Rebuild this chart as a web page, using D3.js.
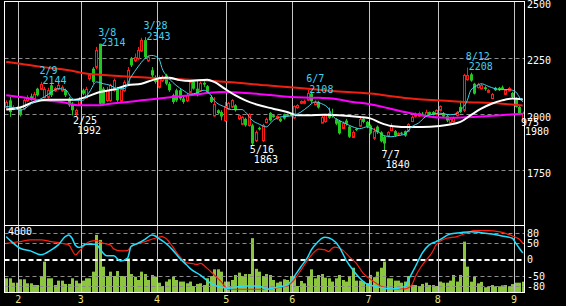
<!DOCTYPE html>
<html>
<head>
<meta charset="utf-8">
<script src="https://cdn.jsdelivr.net/npm/d3@7"></script>
<style>
html, body { margin: 0; padding: 0; background: #000; overflow: hidden; }
svg text { font-family: "DejaVu Sans Mono", monospace; font-size: 10px; }
</style>
</head>
<body>
<div id="chart"></div>
<script>
// daily bars, 2022-01-26 .. 2022-09-05 (index 0..149)
const open = [2033,2062,2025,2028,2025,2025,2062,2080,2070,2114,2114,2077,2077,2129,2107,2114,2107,2107,2070,2047,
  2005,2047,2107,2077,2159,2203,2210,2314,2114,2062,2062,2107,2114,2062,2107,2136,2248,2240,2248,2285,
  2330,2240,2196,2166,2122,2151,2173,2136,2085,2107,2107,2070,2062,2100,2144,2114,2107,2140,2125,2077,
  1996,2018,2010,1975,2025,2033,2040,1981,1958,1980,1951,1951,1884,1940,1884,1966,2006,1996,1981,1980,
  2000,1998,2002,1985,2030,2050,2050,2065,2092,2045,2055,1965,1968,2005,2000,1978,1970,1940,1972,1945,
  1900,1935,1950,1980,1966,1950,1895,1945,1920,1900,1905,1930,1925,1910,1918,1925,1925,1970,1992,1993,
  2003,1996,2010,2010,2000,2018,2005,1992,1966,1970,1996,2033,2018,2154,2178,2136,2122,2114,2120,2100,
  2074,2118,2118,2120,2090,2107,2095,2070,2033,1980];
const high = [2062,2077,2040,2036,2030,2070,2085,2092,2100,2118,2144,2122,2118,2136,2122,2136,2129,2114,2077,2055,
  2025,2077,2114,2122,2180,2210,2300,2314,2122,2122,2136,2159,2122,2122,2151,2210,2255,2270,2300,2340,
  2343,2262,2210,2173,2173,2173,2180,2144,2092,2114,2114,2077,2092,2150,2150,2148,2145,2155,2130,2085,
  2077,2022,2018,2055,2055,2068,2045,2000,1992,1985,2005,1958,1928,1945,1958,1985,2010,2000,1996,1985,
  2003,2003,2006,2040,2045,2062,2065,2108,2100,2062,2060,1995,2000,2030,2025,1982,1975,1968,1980,1950,
  1928,1940,1985,1985,1970,1955,1940,1950,1925,1905,1925,1960,1930,1920,1922,1928,1960,1995,2008,2012,
  2010,2020,2012,2014,2022,2040,2010,1998,1985,1990,2015,2060,2180,2208,2185,2140,2140,2135,2125,2112,
  2095,2122,2122,2128,2110,2122,2100,2075,2038,2012];
const low = [2025,1988,2018,2020,1990,2018,2055,2060,2062,2080,2107,2070,2070,2077,2100,2107,2100,2077,2033,1995,
  1992,2040,2085,2070,2150,2136,2200,2040,2040,2055,2055,2100,2055,2055,2100,2129,2210,2233,2240,2278,
  2248,2233,2166,2136,2114,2144,2129,2100,2047,2055,2062,2047,2055,2095,2110,2080,2100,2122,2095,2050,
  1990,2000,1973,1966,2018,2028,2012,1975,1952,1945,1945,1863,1877,1928,1877,1960,1968,1984,1976,1965,
  1976,1990,1990,1980,2025,2045,2045,2060,2050,2040,2025,1960,1962,1980,1985,1952,1910,1935,1950,1895,
  1895,1925,1945,1960,1938,1910,1885,1912,1875,1840,1898,1925,1900,1905,1908,1900,1920,1965,1985,1988,
  1993,1990,1995,1995,1995,2012,1985,1965,1960,1965,1990,2005,2010,2150,2145,2088,2115,2110,2105,2095,
  2068,2104,2104,2108,2085,2102,2072,2030,1998,1970];
const close = [2055,2010,2033,2032,1996,2062,2077,2065,2092,2085,2136,2114,2107,2085,2118,2129,2122,2085,2040,2018,
  2018,2070,2092,2114,2173,2144,2285,2047,2047,2107,2129,2151,2062,2114,2144,2196,2218,2255,2285,2332,
  2255,2255,2173,2144,2166,2166,2136,2107,2055,2062,2070,2055,2085,2144,2114,2085,2140,2132,2100,2055,
  2047,2005,1990,2038,2050,2062,2018,1996,1988,1951,2000,1870,1921,1933,1951,1980,1973,1988,1991,1969,
  1981,1993,1994,2036,2040,2058,2058,2095,2058,2055,2030,1990,1995,1985,1995,1958,1915,1962,1958,1900,
  1922,1930,1980,1966,1944,1915,1925,1920,1880,1870,1920,1948,1905,1915,1914,1905,1955,1988,2000,2005,
  1998,2012,1998,1998,2018,2035,1990,1972,1980,1985,2010,2010,2173,2173,2150,2092,2136,2129,2112,2108,
  2092,2107,2107,2112,2107,2118,2077,2033,2003,2008];
const volume = [930,930,650,650,866,866,610,610,503,503,1076,1990,930,930,503,780,780,570,570,930,
  780,610,780,930,930,1350,3690,3370,1670,1076,1350,1076,1390,1076,1076,2200,1200,1030,820,1350,
  1200,820,1140,1030,650,440,720,866,1030,820,720,720,610,720,440,570,610,500,930,1076,
  1500,1500,1350,720,720,820,1140,1290,1076,1200,1200,3480,1530,1350,1076,1200,1140,820,650,720,
  866,820,1076,1030,440,760,610,1076,1500,930,1140,1200,970,930,720,930,1140,820,720,1030,
  1600,780,780,720,610,1140,1000,1350,1600,1990,930,930,780,780,650,720,1076,500,500,440,
  570,650,500,500,440,720,650,650,780,1140,720,1140,3260,1670,713,1030,610,700,360,400,
  500,400,420,480,500,420,560,650,650,713];

// moving averages read at sample days: [day, price]
const maShort = [[0,2035],[2,2030],[4,2018],[8,2055],[11,2077],[13,2099],[15,2114],[17,2110],[19,2070],[20,2062],
  [22,2062],[24,2099],[26,2144],[28,2136],[30,2129],[32,2114],[34,2114],[36,2166],[38,2211],[40,2248],[42,2262],
  [44,2248],[45,2203],[47,2159],[49,2129],[51,2107],[53,2090],[55,2095],[57,2107],[58,2100],[59,2085],[60,2062],
  [63,2033],[65,2021],[68,2021],[69,2010],[71,1973],[73,1956],[75,1944],[77,1973],[79,1988],[81,1991],[83,1996],
  [85,2010],[87,2033],[89,2055],[91,2047],[93,2025],[94,1996],[96,1973],[98,1958],[100,1944],[102,1936],[104,1944],
  [105,1940],[107,1925],[109,1905],[111,1900],[113,1905],[115,1912],[117,1945],[119,1962],[121,1990],[123,2000],
  [125,2005],[128,1998],[130,2003],[131,2018],[133,2062],[134,2107],[136,2129],[137,2136],[139,2125],[141,2114],
  [143,2110],[145,2110],[147,2099],[148,2077],[149,2055]];
const maMid = [[0,2021],[4,2030],[8,2055],[12,2065],[16,2065],[20,2065],[23,2077],[27,2099],[31,2110],[35,2129],
  [39,2136],[42,2151],[45,2163],[47,2163],[50,2152],[53,2148],[58,2154],[60,2144],[63,2114],[66,2085],[69,2062],
  [73,2040],[77,2025],[81,2010],[84,1996],[87,1996],[92,1998],[96,1996],[102,1988],[105,1982],[108,1962],[111,1948],
  [114,1944],[120,1943],[125,1948],[128,1955],[131,1966],[134,1996],[137,2025],[140,2047],[143,2062],[146,2070],[149,2066]];
const maLong = [[0,2233],[4,2225],[10,2211],[18,2196],[23,2181],[30,2173],[37,2166],[45,2159],[53,2154],[64,2144],
  [75,2129],[83,2119],[94,2104],[105,2092],[115,2073],[124,2062],[132,2055],[143,2047],[149,2039]];
const maWeek = [[0,2085],[4,2077],[10,2062],[16,2055],[21,2040],[26,2040],[30,2047],[35,2055],[39,2062],[44,2070],
  [48,2077],[53,2085],[62,2099],[69,2095],[75,2087],[82,2077],[89,2074],[94,2070],[100,2055],[105,2045],[110,2028],
  [115,2010],[120,1995],[125,1986],[130,1985],[139,1992],[149,2003]];

// oscillator (RCI) at sample days: [day, value]
const rciShort = [[0,70],[1,60],[4,35],[7,27],[10,15],[13,30],[15,45],[17,70],[18,75],[19,65],[20,43],[21,37],[23,47],
  [26,47],[27,33],[29,12],[31,12],[33,-4],[35,5],[36,40],[38,50],[40,62],[42,75],[43,72],[44,65],[46,50],[48,30],
  [50,5],[52,-15],[53,-26],[56,-46],[59,-71],[62,-83],[64,-86],[69,-79],[73,-79],[75,-89],[78,-83],[81,-76],[83,-51],
  [85,-21],[87,9],[88,30],[90,55],[91,65],[92,68],[94,62],[96,40],[98,0],[100,-31],[102,-56],[104,-73],[105,-76],
  [108,-84],[111,-88],[115,-81],[116,-61],[118,-21],[120,20],[122,45],[124,55],[125,60],[128,78],[131,82],[134,85],
  [137,82],[140,78],[143,72],[146,65],[147,50],[148,35],[149,21]];
const rciLong = [[0,50],[4,55],[7,60],[10,60],[13,55],[16,50],[18,45],[20,15],[21,25],[24,55],[26,58],[28,50],[30,45],
  [31,33],[33,27],[35,28],[36,40],[40,55],[43,65],[45,70],[46,65],[48,40],[50,10],[52,-9],[54,-12],[55,-14],[56,-11],
  [58,-26],[60,-46],[62,-66],[64,-89],[69,-89],[75,-89],[79,-83],[81,-79],[83,-61],[85,-31],[87,0],[89,25],[90,32],
  [92,30],[93,25],[94,35],[95,38],[97,30],[99,9],[101,-11],[103,-41],[105,-58],[108,-79],[111,-88],[115,-88],[117,-76],
  [118,-51],[120,-16],[123,25],[124,45],[127,65],[130,70],[133,82],[135,88],[139,88],[142,85],[144,80],[146,72],
  [148,62],[149,50]];

const highMarks = [{i:10,d:"2/9",v:2144},{i:27,d:"3/8",v:2314},{i:40,d:"3/28",v:2343},{i:87,d:"6/7",v:2108},{i:133,d:"8/12",v:2208}];
const lowMarks = [{i:20,d:"2/25",v:1992},{i:71,d:"5/16",v:1863},{i:109,d:"7/7",v:1840}];
const months = [{i:4,m:"2"},{i:22,m:"3"},{i:44,m:"4"},{i:64,m:"5"},{i:83,m:"6"},{i:105,m:"7"},{i:125,m:"8"},{i:147,m:"9"}];
const priceTicks = [1750,2000,2250,2500];
const oscTicks = [80,50,0,-50,-80];
const volTick = 4000;
const lastLabels = ["975","1980"];

const W = 566, H = 306;
const L = 4.5, R = 524.5;
const RED = "#ff1a1a", GREEN = "#20c820";

const svg = d3.select("#chart").append("svg")
    .attr("width", W).attr("height", H)
    .style("display", "block").style("background", "#000");

const x = d3.scaleLinear().domain([-0.5, 149.5]).range([L, R]);
const y = d3.scaleLinear().domain([1500, 2500]).range([226.7, 1.9]);
const yo = d3.scaleLinear().domain([-100, 100]).range([292.9, 226.7]);
const yv = d3.scaleLinear().domain([0, 4000]).range([292.9, 230]);
const px = i => Math.round(x(i));
const days = d3.range(open.length);

// grid
const grid = svg.append("g");
grid.selectAll("line.pg").data(priceTicks.filter(d => d < 2500)).join("line")
    .attr("x1", L).attr("x2", R)
    .attr("y1", d => Math.round(y(d)) + 0.5).attr("y2", d => Math.round(y(d)) + 0.5)
    .attr("stroke", "#8c8c8c").attr("stroke-dasharray", "4,3");

// volume bars
svg.append("g").selectAll("rect").data(days).join("rect")
    .attr("x", i => px(i) - 1)
    .attr("width", 3)
    .attr("y", i => yv(volume[i]))
    .attr("height", i => yv(0) - yv(volume[i]))
    .attr("fill", "#8cc63f");

svg.append("g").selectAll("line").data(oscTicks).join("line")
    .attr("x1", L).attr("x2", R)
    .attr("y1", d => Math.round(yo(d)) + (d === 0 ? 0 : 0.5))
    .attr("y2", d => Math.round(yo(d)) + (d === 0 ? 0 : 0.5))
    .attr("stroke", d => d === 0 ? "#ffffff" : "#8c8c8c")
    .attr("stroke-width", d => d === 0 ? 2 : 1)
    .attr("stroke-dasharray", d => d === 0 ? "5,3" : "4,3");

// month separators
svg.append("g").selectAll("line").data(months).join("line")
    .attr("x1", d => Math.round(x(d.i - 0.5)) + 0.5).attr("x2", d => Math.round(x(d.i - 0.5)) + 0.5)
    .attr("y1", 2).attr("y2", 293)
    .attr("stroke", "#c4c4c4");

// candles
const up = i => close[i] >= open[i];
svg.append("g").selectAll("line").data(days).join("line")
    .attr("x1", i => px(i) + 0.5).attr("x2", i => px(i) + 0.5)
    .attr("y1", i => y(high[i])).attr("y2", i => y(low[i]))
    .attr("stroke", i => up(i) ? RED : GREEN);
svg.append("g").selectAll("rect").data(days).join("rect")
    .attr("x", i => up(i) ? px(i) - 0.5 : px(i) - 1)
    .attr("width", i => up(i) ? 2 : 3)
    .attr("y", i => up(i) ? Math.round(y(close[i])) + 0.5 : y(open[i]))
    .attr("height", i => Math.max(1, Math.abs(y(open[i]) - y(close[i]))))
    .attr("fill", i => up(i) ? "#000" : GREEN)
    .attr("stroke", i => up(i) ? RED : "none");

// moving averages
const line = d3.line().x(d => x(d[0])).y(d => y(d[1])).curve(d3.curveMonotoneX);
[[maWeek, "#ff00ff", 2], [maLong, "#f02010", 2], [maMid, "#ffffff", 2], [maShort, "#3fd7ea", 1]].forEach(([data, c, w]) => {
    svg.append("path").datum(data).attr("d", line)
        .attr("fill", "none").attr("stroke", c).attr("stroke-width", w);
});

// oscillator lines
const oline = d3.line().x(d => x(d[0])).y(d => yo(d[1])).curve(d3.curveMonotoneX);
svg.append("path").datum(rciLong).attr("d", oline)
    .attr("fill", "none").attr("stroke", "#ff2010").attr("stroke-width", 1.2);
svg.append("path").datum(rciShort).attr("d", oline)
    .attr("fill", "none").attr("stroke", "#20e0ff").attr("stroke-width", 1.5);

// frame
const frame = svg.append("g").attr("stroke", "#fff").attr("fill", "none");
frame.append("rect").attr("x", L).attr("y", 1.5).attr("width", R - L).attr("height", 291);
frame.append("line").attr("x1", L).attr("x2", R).attr("y1", 225.5).attr("y2", 225.5);

// high / low annotations
const ann = svg.append("g");
highMarks.forEach(d => {
    ann.append("text").attr("x", x(d.i) - 1.5).attr("y", y(d.v) - 8).attr("fill", "#40d0f0").text(d.d);
    ann.append("text").attr("x", x(d.i) + 1.5).attr("y", y(d.v) + 2.5).attr("fill", "#40d0f0").text(d.v);
});
lowMarks.forEach(d => {
    ann.append("text").attr("x", x(d.i) - 2.5).attr("y", y(d.v) + 7.5).attr("fill", "#fff").text(d.d);
    ann.append("text").attr("x", x(d.i) + 1.5).attr("y", y(d.v) + 18).attr("fill", "#fff").text(d.v);
});

// axes labels
svg.append("g").selectAll("text").data(priceTicks).join("text")
    .attr("x", 527).attr("y", d => y(d) + 6.2).attr("fill", "#fff").text(d => d);
svg.append("g").selectAll("text").data(oscTicks).join("text")
    .attr("x", 527).attr("y", d => yo(d) + 3.6).attr("fill", "#fff").text(d => d);
svg.append("text").attr("x", 8).attr("y", 235.3).attr("fill", "#fff").text(volTick);
svg.append("text").attr("x", 521).attr("y", 126.3).attr("fill", "#fff").text(lastLabels[0]);
svg.append("text").attr("x", 525).attr("y", 135.3).attr("fill", "#fff").text(lastLabels[1]);
svg.append("g").selectAll("text").data(months).join("text")
    .attr("x", d => x(d.i - 0.5)).attr("y", 303)
    .attr("text-anchor", "middle").attr("fill", "#ece47a").text(d => d.m);
</script>
</body>
</html>
